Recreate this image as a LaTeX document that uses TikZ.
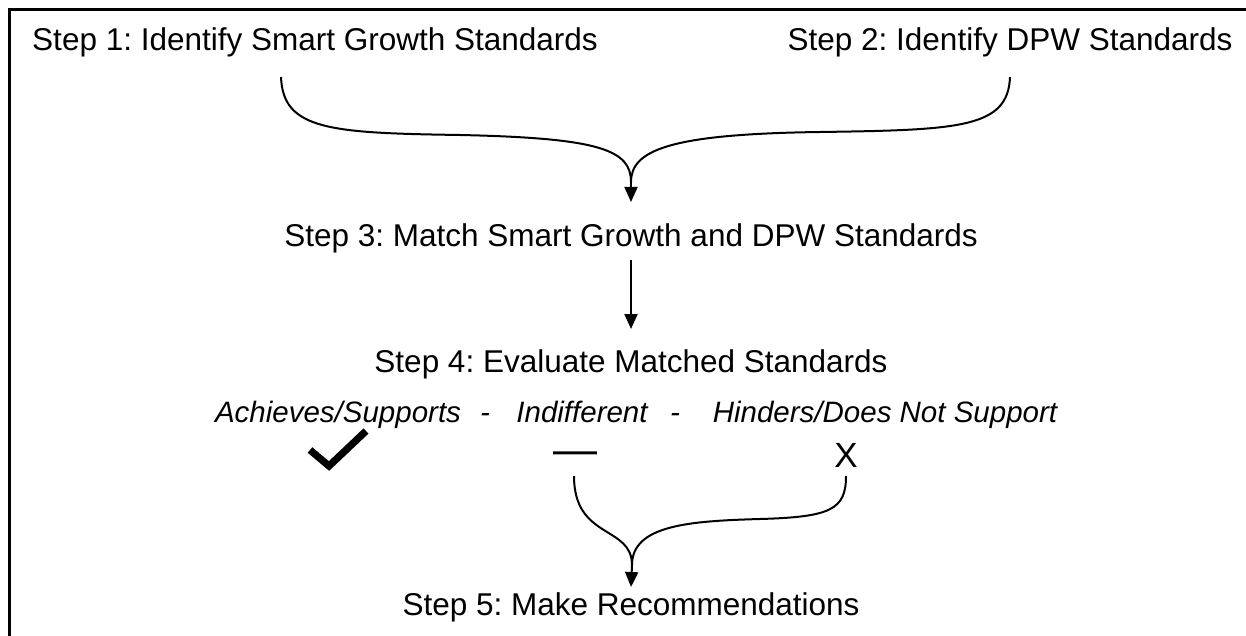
\documentclass[tikz,border=0pt]{standalone}
\usepackage{fontspec}
\setmainfont{Liberation Sans}
\usetikzlibrary{arrows.meta, calc}
\frenchspacing

\begin{document}
\begin{tikzpicture}[x=0.5pt, y=-0.5pt,
	steptext/.style={font=\fontsize{15.75}{19}\selectfont, inner sep=0pt, anchor=base},
	ratetext/.style={font=\fontsize{14.75}{18}\selectfont\itshape, inner sep=0pt, anchor=base},
	link/.style={line width=1pt, line join=round},
	tip/.style={-{Triangle[width=6.5pt, length=7.5pt]}}]
	\useasboundingbox (0,0) rectangle (1246,636);
	\draw[line width=1.4pt] (9.5,636) -- (9.5,9.5) -- (1246,9.5);
	% steps
	\node[steptext] (s1) at (315,51) {Step 1: Identify Smart Growth Standards};
	\node[steptext] (s2) at (1010,51) {Step 2: Identify DPW Standards};
	\node[steptext] (s3) at (631,247) {Step 3: Match Smart Growth and DPW Standards};
	\node[steptext] (s4) at (631,372) {Step 4: Evaluate Matched Standards};
	\node[steptext] (s5) at (631,615) {Step 5: Make Recommendations};
	% ratings
	\node[ratetext] (ach) at (338,422) {Achieves/Supports};
	\node[ratetext] (sep1) at (485,422) {-};
	\node[ratetext] (ind) at (582,422) {Indifferent};
	\node[ratetext] (sep2) at (675,422) {-};
	\node[ratetext] (hin) at (885,422) {Hinders/Does Not Support};
	\node[font=\fontsize{22}{26}\selectfont, inner sep=0pt, anchor=base] (indmark) at (575,464) {—};
	\node[font=\fontsize{17.5}{21}\selectfont, inner sep=0pt, anchor=base] (hinmark) at (846,467) {X};
	\coordinate (achmark) at (338,451);
	\draw[line width=3.6pt] ($(achmark)+(-28,-1)$) -- ($(achmark)+(-9,15)$) -- ($(achmark)+(28,-20)$);
	% braces
	\coordinate (b1) at ($(s1.base)+(-34,26)$);
	\coordinate (b2) at ($(s2.base)+(0,26)$);
	\coordinate (j1) at (631,182);
	\coordinate (b3) at ($(indmark.base)+(-1,12)$);
	\coordinate (b4) at ($(hinmark.base)+(0,9)$);
	\coordinate (j2) at (632,565);
	\draw[link] (b1) .. controls (283,130) and (330,133) .. (460,135) .. controls (600,138) and (631,150) .. (j1);
	\draw[link] (b2) .. controls (1008,128) and (960,130) .. (820,132) .. controls (670,134) and (631,150) .. (j1);
	\draw[link, tip] (j1) -- ($(s3.base)+(0,-45)$);
	\draw[link, tip] ($(s3.base)+(0,13)$) -- ($(s4.base)+(0,-43)$);
	\draw[link] (b3) .. controls (574,540) and (632,525) .. (j2);
	\draw[link] (b4) .. controls (846,510) and (830,517) .. (760,519) .. controls (690,521) and (632,525) .. (j2);
	\draw[link, tip] (j2) -- ($(s5.base)+(0,-28)$);
\end{tikzpicture}
\end{document}
